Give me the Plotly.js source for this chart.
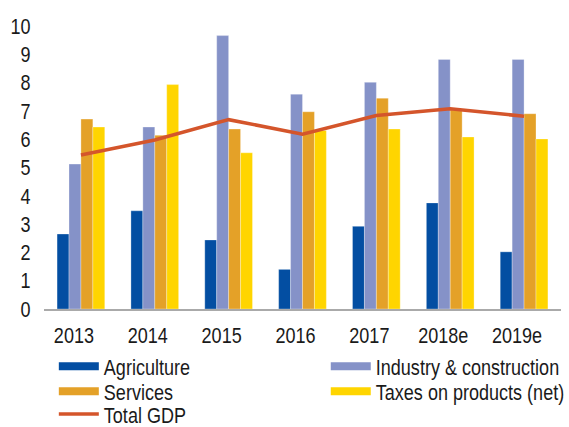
<!DOCTYPE html>
<html>
<head>
<meta charset="utf-8">
<script src="https://cdn.plot.ly/plotly-3.0.1.min.js"></script>
<style>html,body{margin:0;padding:0;background:#fff}#chart{width:569px;height:427px}</style>
</head>
<body>
<div id="chart"></div>
<script>
const years = ['2013','2014','2015','2016','2017','2018e','2019e'];
const agriculture = [2.65, 3.47, 2.44, 1.40, 2.92, 3.75, 2.02];
const industry = [5.12, 6.43, 9.66, 7.59, 8.01, 8.82, 8.82];
const services = [6.71, 6.14, 6.36, 6.97, 7.45, 7.04, 6.90];
const taxes = [6.43, 7.93, 5.52, 6.31, 6.36, 6.08, 6.01];
const totalGdp = [5.44, 5.97, 6.69, 6.18, 6.84, 7.08, 6.81];
const yTicks = [0,1,2,3,4,5,6,7,8,9,10];

const names = ['Agriculture','Industry & construction','Services','Taxes on products (net)'];
const colors = ['#034EA2','#8592C8','#E4A128','#FFD500'];
const series = [agriculture, industry, services, taxes];
const legendIds = ['legend','legend2','legend3','legend4'];

const FONT = 'Liberation Sans, Arial, sans-serif';
const traces = [];
series.forEach((vals, i) => {
  traces.push({
    type: 'bar', x: years, y: vals, name: names[i],
    marker: {color: colors[i], line: {color: 'rgba(255,255,255,0.6)', width: 0.5}},
    showlegend: false, hoverinfo: 'skip'
  });
});
// legend swatches (legend-only entries, no data)
series.forEach((vals, i) => {
  traces.push({
    type: 'scatter', mode: 'lines', x: [null], y: [null], name: names[i],
    line: {color: colors[i], width: 8}, legend: legendIds[i], showlegend: true
  });
});
traces.push({
  type: 'scatter', mode: 'lines', x: years, y: totalGdp, name: 'Total GDP',
  line: {color: '#D4552B', width: 3.5}, legend: 'legend5', hoverinfo: 'skip'
});

const legBase = {font: {family: FONT, size: 22, color: '#1a1a1a'}, bgcolor: 'rgba(0,0,0,0)',
  xanchor: 'left', yanchor: 'middle', itemwidth: 40, borderwidth: 0};
const col1 = 0.019, col2 = 0.545;
const r1 = -0.2028, r2 = -0.2910, r3 = -0.3721;

const layout = {
  width: 569, height: 427,
  margin: {l: 44, r: 8, t: 26, b: 117.5, autoexpand: false},
  paper_bgcolor: '#fff', plot_bgcolor: '#fff',
  font: {family: FONT, size: 22, color: '#1a1a1a'},
  barmode: 'group', bargap: 0.354, bargroupgap: 0,
  showlegend: true,
  xaxis: {
    type: 'category', showline: true, linecolor: '#aaaaaa', linewidth: 1.5,
    ticks: 'outside', ticklen: 6, tickcolor: 'rgba(0,0,0,0)', tickangle: 0,
    ticklabelshift: -7, showgrid: false, zeroline: false, fixedrange: true, automargin: false
  },
  yaxis: {
    range: [0, 10], tickvals: yTicks, ticktext: yTicks.map(String),
    showline: false, showgrid: false, zeroline: false, automargin: false,
    ticks: 'outside', ticklen: 8, tickcolor: 'rgba(0,0,0,0)', fixedrange: true
  },
  legend: Object.assign({}, legBase, {x: col1, y: r1}),
  legend2: Object.assign({}, legBase, {x: col2, y: r1}),
  legend3: Object.assign({}, legBase, {x: col1, y: r2}),
  legend4: Object.assign({}, legBase, {x: col2, y: r2}),
  legend5: Object.assign({}, legBase, {x: col1, y: r3})
};

// Narrow the glyphs horizontally around each text's anchor point (condensed look)
function condense() {
  document.querySelectorAll('#chart svg text').forEach(t => {
    if (t.getAttribute('data-cond')) return;
    const x = parseFloat(t.getAttribute('x')) || 0;
    const tr = t.getAttribute('transform') || '';
    t.setAttribute('transform', (tr + ' translate(' + x + ',0) scale(0.82,1) translate(' + (-x) + ',0)').trim());
    t.setAttribute('data-cond', '1');
  });
  document.querySelectorAll('#chart svg [clip-path]').forEach(el => {
    if (el.closest('.legend')) el.removeAttribute('clip-path');
  });
}

Plotly.newPlot('chart', traces, layout, {staticPlot: true, displayModeBar: false}).then(condense);
</script>
</body>
</html>
